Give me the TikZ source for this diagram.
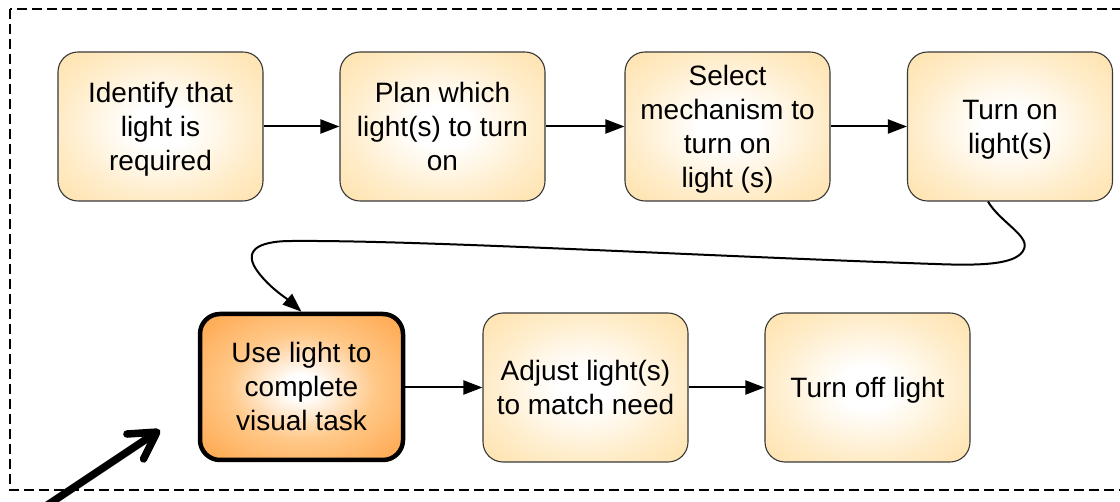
\documentclass[tikz,border=0pt]{standalone}
\usepackage{fontspec}
\setmainfont{Liberation Sans}
\usetikzlibrary{arrows.meta}

% soft radial fills: white centre fading to the rim colour
\pgfdeclareradialshading{paleglow}{\pgfpoint{0bp}{0bp}}{%
  color(0bp)=(white); color(7bp)=(white); color(24bp)=(rgb,255:red,255;green,236;blue,200);
  color(40bp)=(rgb,255:red,254;green,222;blue,162); color(55bp)=(rgb,255:red,252;green,210;blue,130);
  color(71bp)=(rgb,255:red,250;green,202;blue,112)}
\pgfdeclareradialshading{hotglow}{\pgfpoint{0bp}{0bp}}{%
  color(0bp)=(white); color(4bp)=(white); color(18bp)=(rgb,255:red,255;green,200;blue,136);
  color(32bp)=(rgb,255:red,255;green,172;blue,86); color(50bp)=(rgb,255:red,255;green,158;blue,60);
  color(71bp)=(rgb,255:red,255;green,146;blue,36)}

% every text line gets the same height and depth
\newcommand\lnstrut{\rule[-7pt]{0pt}{34pt}}

\begin{document}
\begin{tikzpicture}[x=1pt,y=-1pt,
  every node/.style={font=\fontsize{28}{34}\selectfont, align=center, inner sep=0pt},
  stepbox/.style={rounded corners=20pt, minimum width=205pt, minimum height=149pt,
    draw=black!78, line width=1.1pt, shading=paleglow},
  keybox/.style={rounded corners=20pt, minimum width=203pt, minimum height=146pt,
    draw=black, line width=4.5pt, shading=hotglow},
  conn/.style={draw=black, line width=2pt, -{Triangle[length=19pt,width=14pt]}},
  pointer/.style={draw=black, line width=7.5pt, line cap=round,
    -{Straight Barb[length=26pt,width=30pt,round]}},
  frame/.style={draw=black, line width=1.6pt, dash pattern=on 10pt off 5pt}]

\useasboundingbox (0,0) rectangle (1120,502);

% enclosing dashed boundary (its right side runs past the page)
\draw[frame] (10,9) rectangle (1135,490);

% top row
\node[stepbox] (identify) at (160.5,126.5) {\lnstrut Identify that\\\lnstrut light is\\\lnstrut required};
\node[stepbox] (plan)     at (442.5,126.5) {\lnstrut Plan which\\\lnstrut light(s) to turn\\\lnstrut on};
\node[stepbox] (select)   at (727.5,126.5) {\lnstrut Select\\\lnstrut mechanism to\\\lnstrut turn on\\\lnstrut light (s)};
\node[stepbox] (turnon)   at (1010,126.5)  {\lnstrut Turn on\\\lnstrut light(s)};

% bottom row
\node[keybox]  (use)      at (301.5,387)   {\lnstrut Use light to\\\lnstrut complete\\\lnstrut visual task};
\node[stepbox] (adjust)   at (585.5,387.5) {\lnstrut Adjust light(s)\\\lnstrut to match need};
\node[stepbox] (turnoff)  at (867.5,387.5) {\lnstrut Turn off light};

% connectors
\draw[conn] (identify) -- (plan);
\draw[conn] (plan) -- (select);
\draw[conn] (select) -- (turnon);
\draw[conn] (use.east |- adjust.west) -- (adjust.west);
\draw[conn] (adjust) -- (turnoff);

\draw[conn] ([xshift=-22pt]turnon.south)
  .. controls (1000,222) and (1030,236) .. (1024,249)
  .. controls (1018,264) and (985,266) .. (935,264)
  .. controls (700,256) and (420,240) .. (292,241)
  .. controls (255,241) and (243,252) .. (258,272)
  .. controls (270,288) and (286,298) .. (use.north);

% pointer into the highlighted step
\coordinate (ptrtail) at (46,506);
\coordinate (ptrtip) at (160,430);
\draw[pointer] (ptrtail) -- (ptrtip);

\end{tikzpicture}
\end{document}
